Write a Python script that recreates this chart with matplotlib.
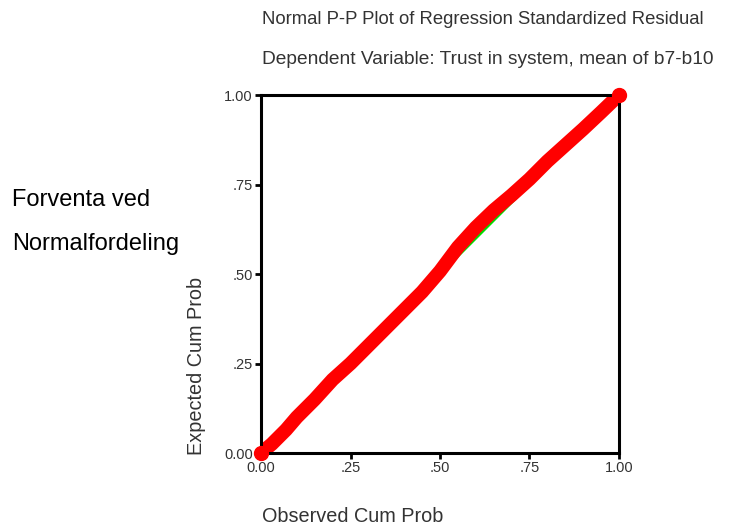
import matplotlib.pyplot as plt

plt.rcParams['font.family'] = ['Liberation Sans', 'DejaVu Sans']

# P-P plot values
observed = [0.00, 0.03, 0.07, 0.10, 0.15, 0.20, 0.25, 0.30, 0.35, 0.40, 0.45,
            0.50, 0.55, 0.60, 0.65, 0.70, 0.75, 0.80, 0.85, 0.90, 0.95, 1.00]
expected = [0.00, 0.025, 0.065, 0.10, 0.15, 0.205, 0.25, 0.30, 0.35, 0.40, 0.45,
            0.508, 0.575, 0.63, 0.678, 0.72, 0.765, 0.815, 0.86, 0.905, 0.952, 1.00]
ticks = [0.0, 0.25, 0.5, 0.75, 1.0]
tick_labels = ['0.00', '.25', '.50', '.75', '1.00']

fig = plt.figure(figsize=(7.39, 5.25), dpi=100)
ax = fig.add_axes([0.3532, 0.1371, 0.4844, 0.6819])

# reference line
ax.plot([0, 1], [0, 1], color='#00dd00', lw=2, zorder=1)
# residual points
ax.plot(observed, expected, color='red', lw=10, solid_capstyle='round',
        solid_joinstyle='round', zorder=2)
ax.plot([observed[0], observed[-1]], [expected[0], expected[-1]], 'o',
        color='red', ms=10, clip_on=False, zorder=3)

ax.set_xlim(0, 1)
ax.set_ylim(0, 1)
ax.set_xticks(ticks)
ax.set_xticklabels(tick_labels)
ax.set_yticks(ticks)
ax.set_yticklabels(tick_labels)
ax.tick_params(direction='out', length=4, width=2, labelsize=10.5,
               labelcolor='#333333', pad=2)
for s in ax.spines.values():
    s.set_linewidth(2.2)

fig.text(262 / 739, 1 - 20 / 525, 'Normal P-P Plot of Regression Standardized Residual',
         fontsize=13.3, color='#333333', ha='left', va='center')
fig.text(262 / 739, 1 - 60 / 525, 'Dependent Variable: Trust in system, mean of b7-b10',
         fontsize=13.8, color='#333333', ha='left', va='center')
fig.text(262 / 739, 1 - 517 / 525, 'Observed Cum Prob',
         fontsize=14.3, color='#333333', ha='left', va='center')
fig.text(196 / 739, 70 / 525, 'Expected Cum Prob', rotation=90,
         fontsize=14.3, color='#333333', ha='center', va='bottom')
fig.text(12 / 739, 1 - 200 / 525, 'Forventa ved', fontsize=17,
         ha='left', va='center')
fig.text(12 / 739, 1 - 244 / 525, 'Normalfordeling', fontsize=17,
         ha='left', va='center')

fig.savefig('out.png', dpi=100, facecolor='white')
